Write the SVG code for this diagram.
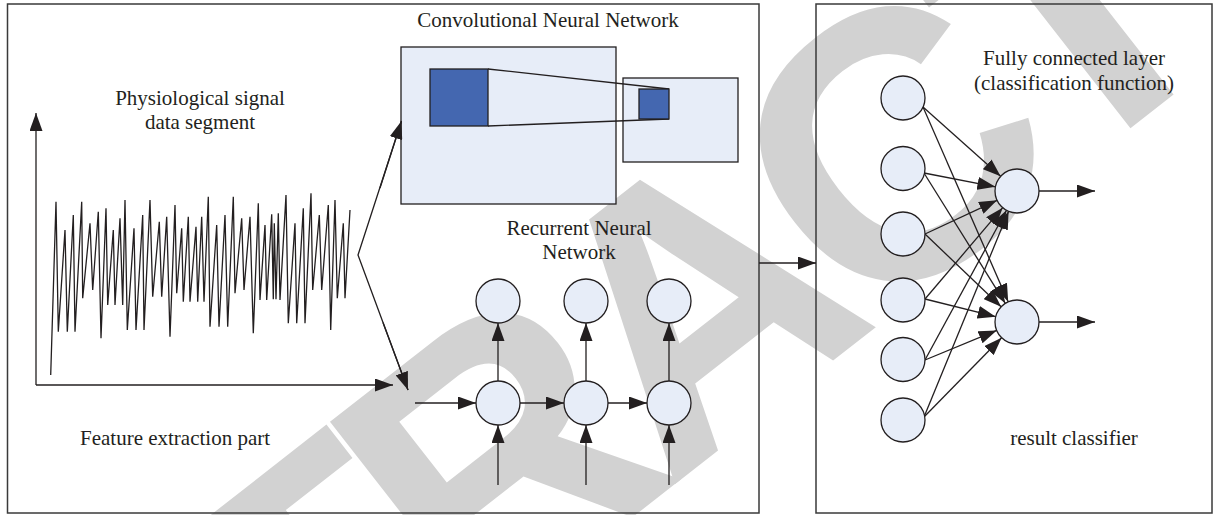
<svg xmlns="http://www.w3.org/2000/svg" width="1213" height="515" viewBox="0 0 1213 515">
<style>
.ln{stroke:#231f20;stroke-width:1.3;fill:none}
.ar{stroke:#231f20;stroke-width:1.3;fill:none;marker-end:url(#ah)}
.nd{fill:#e7edf8;stroke:#231f20;stroke-width:1.3}
.bx{fill:#e7edf8;stroke:#231f20;stroke-width:1.3}
.dk{fill:#4467b0;stroke:#231f20;stroke-width:1.3}
.fr{fill:none;stroke:#3a3a3a;stroke-width:1.5}
.tx{font-family:"Liberation Serif","Times New Roman",serif;font-size:21px;fill:#231f20}
.wm{font-family:"Liberation Sans",Arial,sans-serif;font-weight:bold;font-size:380px;letter-spacing:-25px;fill:#d2d2d2}
</style>
<defs>
<marker id="ah" markerUnits="userSpaceOnUse" markerWidth="18" markerHeight="13" refX="18" refY="6.5" orient="auto"><path d="M0,0 L18,6.5 L0,13 z" fill="#231f20"/></marker>
</defs>
<rect width="1213" height="515" fill="#ffffff"/>
<g id="watermark">
<text class="wm" transform="translate(682,306) rotate(-38)" x="0" y="136" text-anchor="middle">RETRACTED</text>
</g>
<g id="frames">
<rect id="feature-frame" class="fr" x="7.5" y="4" width="751.5" height="509"/>
<rect id="classifier-frame" class="fr" x="816" y="4" width="396" height="509"/>
</g>
<g id="labels">
<text class="tx" x="200" y="105" text-anchor="middle">Physiological signal</text>
<text class="tx" x="200" y="128.5" text-anchor="middle">data segment</text>
<text class="tx" x="548" y="27" text-anchor="middle">Convolutional Neural Network</text>
<text class="tx" x="579" y="235" text-anchor="middle">Recurrent Neural</text>
<text class="tx" x="579" y="259" text-anchor="middle">Network</text>
<text class="tx" x="80" y="445">Feature extraction part</text>
<text class="tx" x="1074" y="65" text-anchor="middle">Fully connected layer</text>
<text class="tx" x="1074" y="90" text-anchor="middle">(classification function)</text>
<text class="tx" x="1074" y="445" text-anchor="middle">result classifier</text>
</g>
<g id="signal">
<polyline class="ln" stroke-width="1.2" points="50.7,375 56,201.7 58.3,331.7 65,230 67.3,331.7 73.3,215 75,331.7 81.7,201.7 82.7,298.3 90,223.3 92.7,290 98.3,211.7 101,338.3 106,208.3 107.7,305 113.3,230 115,305 120,218.3 122.7,305 125,200 127.3,330 134,228.3 136,330 142.7,215 144,330 150,200 152.7,296.7 159.3,221.7 161.7,296.7 166.7,216.7 170,336.7 175,205 176.7,293.3 181.7,228.3 183.3,301.7 188.3,216.7 190,301.7 196,226.7 197.7,301.7 201.7,216.7 204,301.7 208.3,196.7 210,326.7 216.7,225 219,326.7 225,215 227.7,326.7 233.3,196.7 235,293.3 241.7,218.3 244,290 250,216.7 253.3,333.3 258.3,203.3 260,300 265,225 266.7,300 271.7,214.3 273.3,299.3 274.3,223.3 276,299.3 278.3,213.3 280,300 286,195 288.3,323.3 295,223.3 296.7,323.3 303.3,208.3 305,323.3 311,193.3 312.7,290 319.3,215 321.7,290 328.3,205 330.7,330 335,200 337.3,298.3 343.3,223.3 345,298.3 350,210"/>
</g>
<g id="cnn">
<rect class="bx" x="401" y="47" width="215" height="157"/>
<rect class="bx" x="623" y="78" width="115" height="84"/>
<line class="ln" x1="488" y1="69" x2="669" y2="89"/>
<line class="ln" x1="488" y1="126" x2="669" y2="119"/>
<rect class="dk" x="430" y="69" width="58" height="57"/>
<rect class="dk" x="639" y="89" width="30" height="30"/>
</g>
<g id="connectors">
<line class="ar" x1="36" y1="385" x2="36" y2="113"/>
<line class="ar" x1="36" y1="385" x2="393" y2="385"/>
<polyline class="ln" points="401.5,121 358,255 408,390"/>
<line class="ar" x1="380" y1="188" x2="401.5" y2="121"/>
<line class="ar" x1="383" y1="322.5" x2="408" y2="390"/>
<line class="ar" x1="759" y1="263" x2="816" y2="263"/>
<line class="ar" x1="415" y1="403" x2="476" y2="403"/>
<line class="ar" x1="520" y1="403" x2="564" y2="403"/>
<line class="ar" x1="608" y1="403" x2="647" y2="403"/>
<line class="ar" x1="498" y1="381" x2="498" y2="323"/>
<line class="ar" x1="586" y1="381" x2="586" y2="323"/>
<line class="ar" x1="669" y1="381" x2="669" y2="323"/>
<line class="ar" x1="498" y1="485" x2="498" y2="425"/>
<line class="ar" x1="586" y1="485" x2="586" y2="425"/>
<line class="ar" x1="669" y1="485" x2="669" y2="425"/>
<line class="ar" x1="923" y1="107" x2="1000.6" y2="176.3"/>
<line class="ar" x1="924" y1="173" x2="995.4" y2="186.8"/>
<line class="ar" x1="925" y1="234" x2="997.1" y2="200.3"/>
<line class="ar" x1="925" y1="299" x2="1002.7" y2="207.7"/>
<line class="ar" x1="925" y1="360" x2="1006.5" y2="210.3"/>
<line class="ar" x1="924" y1="417" x2="1008.6" y2="211.3"/>
<line class="ar" x1="923" y1="107" x2="1008.2" y2="301.8"/>
<line class="ar" x1="924" y1="173" x2="1005.3" y2="303.3"/>
<line class="ar" x1="925" y1="234" x2="1001.1" y2="306.8"/>
<line class="ar" x1="925" y1="299" x2="995.7" y2="316.7"/>
<line class="ar" x1="925" y1="360" x2="996.7" y2="330.4"/>
<line class="ar" x1="924" y1="417" x2="1001.6" y2="337.7"/>
<line class="ar" x1="1039" y1="191" x2="1095" y2="191"/>
<line class="ar" x1="1039" y1="322" x2="1095" y2="322"/>
</g>
<g id="rnn-h1"><circle class="nd" cx="498" cy="403" r="22"/></g>
<g id="rnn-h2"><circle class="nd" cx="586" cy="403" r="22"/></g>
<g id="rnn-h3"><circle class="nd" cx="669" cy="403" r="22"/></g>
<g id="rnn-o1"><circle class="nd" cx="498" cy="301" r="22"/></g>
<g id="rnn-o2"><circle class="nd" cx="586" cy="301" r="22"/></g>
<g id="rnn-o3"><circle class="nd" cx="669" cy="301" r="22"/></g>
<g id="fc-in1"><circle class="nd" cx="903" cy="98" r="22"/></g>
<g id="fc-in2"><circle class="nd" cx="903" cy="168.5" r="22"/></g>
<g id="fc-in3"><circle class="nd" cx="903" cy="234" r="22"/></g>
<g id="fc-in4"><circle class="nd" cx="903" cy="300" r="22"/></g>
<g id="fc-in5"><circle class="nd" cx="903" cy="359.5" r="22"/></g>
<g id="fc-in6"><circle class="nd" cx="903" cy="420" r="22"/></g>
<g id="fc-out1"><circle class="nd" cx="1017" cy="191" r="22"/></g>
<g id="fc-out2"><circle class="nd" cx="1017" cy="322" r="22"/></g>
</svg>
